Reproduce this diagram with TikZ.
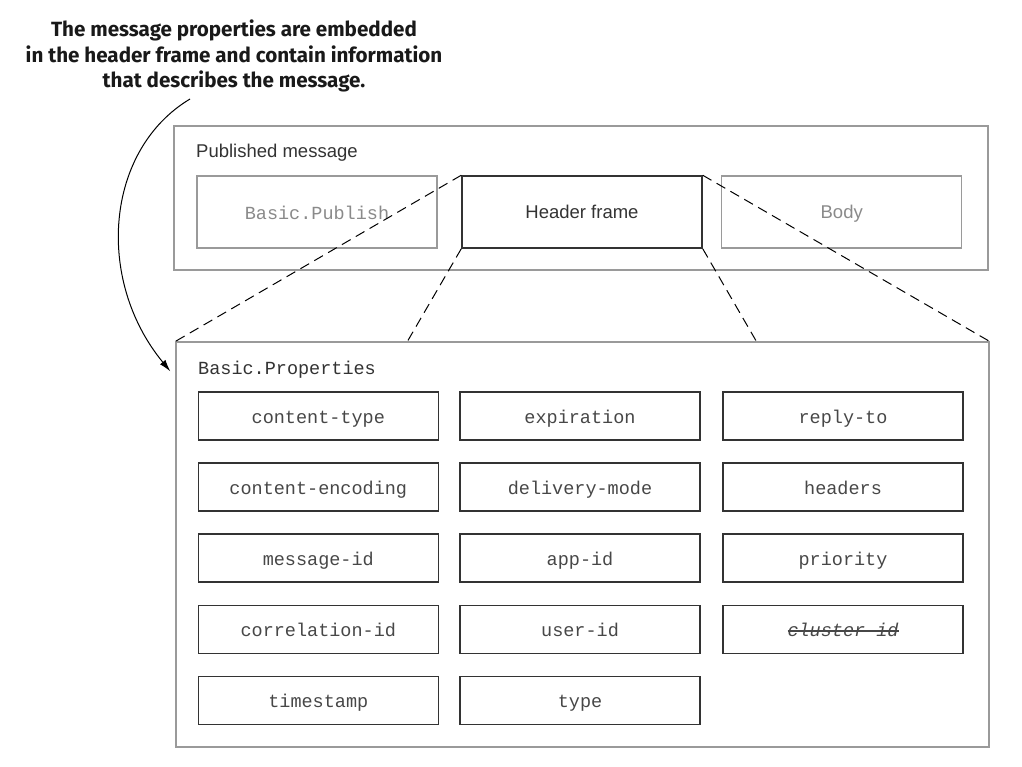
\documentclass[tikz,border=0pt]{standalone}
\usepackage{fontspec}
\setmainfont{Liberation Sans}
\setmonofont{Liberation Mono}
\newfontfamily\annfont{Fira Sans}
\usetikzlibrary{arrows.meta,calc}
\definecolor{lgray}{HTML}{9A9A9A}
\definecolor{tgray}{HTML}{8A8A8A}
\definecolor{dark}{HTML}{333333}
\newsavebox\strkbox
\newcommand\strikeout[1]{\sbox\strkbox{#1}\rlap{\usebox\strkbox}\rule[0.25em]{\wd\strkbox}{0.07em}}
\begin{document}
\begin{tikzpicture}[x=1pt,y=-1pt,
  sanstxt/.style={font=\fontsize{18.5}{22}\selectfont},
  monotxt/.style={font=\ttfamily\fontsize{18.5}{22}\selectfont},
  framebox/.style={draw=lgray, line width=1.2pt, inner sep=0pt},
  graybox/.style={draw=lgray, line width=1.2pt, minimum width=240pt, minimum height=72pt, inner sep=0pt, text=tgray},
  monobox/.style={text height=15pt, text depth=1pt},
  sansbox/.style={text height=13.6pt, text depth=0pt},
  hdrbox/.style={draw=dark, line width=1.5pt, minimum width=240pt, minimum height=72pt, inner sep=0pt, text=dark, sanstxt, sansbox},
  propbox/.style={draw=dark, line width=1.3pt, minimum width=240pt, minimum height=48pt, inner sep=0pt, text=dark!90, monotxt, monobox},
  zoomline/.style={draw=black, line width=1pt, dash pattern=on 10pt off 6pt},
  callout/.style={draw=black, line width=1pt, -{Latex[length=12pt,width=7pt]}}
]
\useasboundingbox (0,0) rectangle (1022,766);

% annotation
\node[align=center, inner sep=0pt, text=black!90, font=\annfont\bfseries\fontsize{20.6}{25.5}\selectfont]
  (ann) at (234,56) {The message properties are embedded\\in the header frame and contain information\\that describes the message.};

% published message
\node[framebox, minimum width=814pt, minimum height=144pt] (pub) at (581,198) {};
\node[sanstxt, text=dark, anchor=base west, inner sep=0pt] (publbl) at (196,157) {Published message};
\node[graybox, monotxt, monobox] (bpub) at (317,212) {Basic.Publish};
\node[hdrbox] (hdr) at (582,212) {Header frame};
\node[graybox, sanstxt, sansbox] (body) at (841.7,212) {Body};

% properties
\node[framebox, minimum width=813pt, minimum height=405pt] (props) at (582.5,544.5) {};
\node[monotxt, text=dark, anchor=base west, inner sep=0pt] (proplbl) at (198,374) {Basic.Properties};

\node[propbox] (p11) at (318.3,416) {content-type};
\node[propbox] (p12) at (580,416) {expiration};
\node[propbox] (p13) at (843,416) {reply-to};
\node[propbox] (p21) at (318.3,487) {content-encoding};
\node[propbox] (p22) at (580,487) {delivery-mode};
\node[propbox] (p23) at (843,487) {headers};
\node[propbox] (p31) at (318.3,558) {message-id};
\node[propbox] (p32) at (580,558) {app-id};
\node[propbox] (p33) at (843,558) {priority};
\node[propbox] (p41) at (318.3,629.3) {correlation-id};
\node[propbox] (p42) at (580,629.3) {user-id};
\node[propbox] (p43) at (843,629.3) {\strikeout{\itshape cluster-id}};
\node[propbox] (p51) at (318.3,700.3) {timestamp};
\node[propbox] (p52) at (580,700.3) {type};

% zoom lines
\draw[zoomline] (hdr.north west) -- (props.north west);
\draw[zoomline] (hdr.south west) -- ($(props.north west)+(232,0)$);
\draw[zoomline] (hdr.south east) -- ($(props.north west)+(581,0)$);
\draw[zoomline] (hdr.north east) -- (props.north east);

% callout
\coordinate (cstart) at (190,99);
\coordinate (cend) at ($(props.north west)+(-5,30)$);
\draw[callout] (cstart) .. controls (105,150) and (95,280) .. (cend);
\end{tikzpicture}
\end{document}
